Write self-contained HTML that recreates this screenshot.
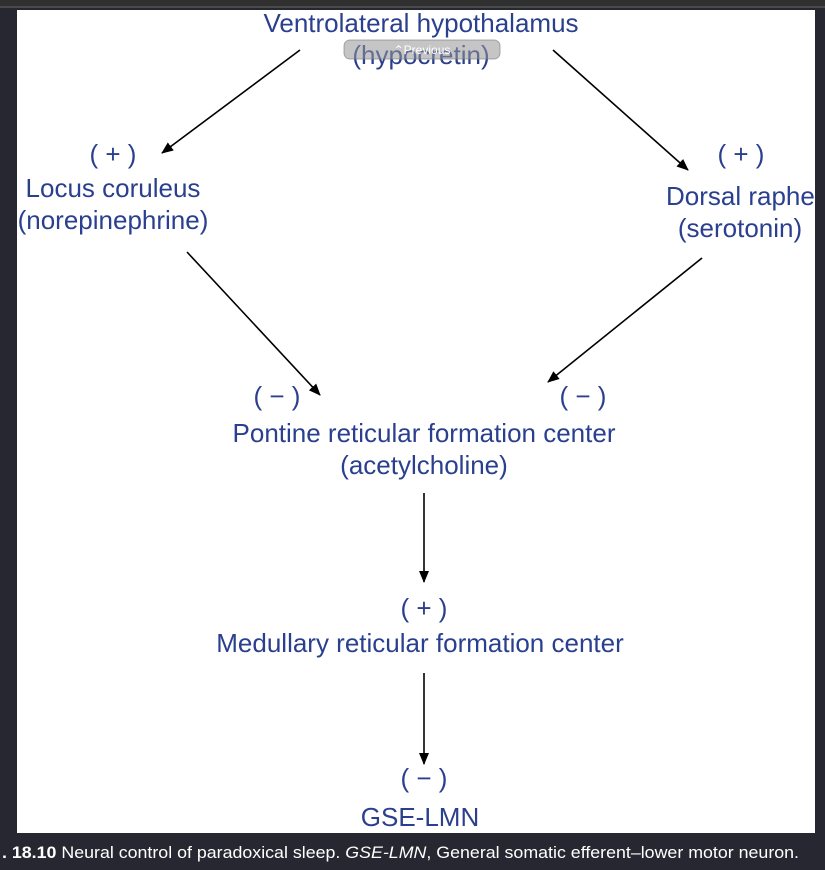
<!DOCTYPE html>
<html><head><meta charset="utf-8"><style>
html,body{margin:0;padding:0;background:#262730;width:825px;height:870px;overflow:hidden}
svg{display:block}
.t{font-family:"Liberation Sans",sans-serif;font-size:26px;fill:#2a3f8e}
</style></head><body>
<svg width="825" height="870" viewBox="0 0 825 870">
<defs><marker id="a" markerWidth="12" markerHeight="10" refX="11" refY="5" orient="auto" markerUnits="userSpaceOnUse"><path d="M0,0 L12,5 L0,10 Z" fill="#000"/></marker></defs>
<rect x="0" y="0" width="825" height="6" fill="#303030"/>
<rect x="0" y="6" width="825" height="2" fill="#4a4a4a"/>
<rect x="17" y="10" width="798" height="823" fill="#fff"/>
<g class="t" text-anchor="middle">
<text x="421" y="32">Ventrolateral hypothalamus</text>
<text x="421" y="64">(hypocretin)</text>
<text x="113" y="163">( + )</text>
<text x="113" y="197">Locus coruleus</text>
<text x="113" y="229">(norepinephrine)</text>
<text x="741" y="163">( + )</text>
<text x="666" y="205" text-anchor="start">Dorsal raphe</text>
<text x="740" y="237">(serotonin)</text>
<text x="277" y="405">( − )</text>
<text x="583" y="405">( − )</text>
<text x="424" y="442">Pontine reticular formation center</text>
<text x="424" y="474">(acetylcholine)</text>
<text x="424" y="617">( + )</text>
<text x="420" y="652">Medullary reticular formation center</text>
<text x="424" y="787">( − )</text>
<text x="420" y="826">GSE-LMN</text>
</g>
<rect x="815" y="10" width="10" height="823" fill="#262730"/>
<g stroke="#000" stroke-width="1.6" marker-end="url(#a)">
<line x1="300" y1="50" x2="162" y2="153"/>
<line x1="553" y1="50" x2="688" y2="170"/>
<line x1="187" y1="252" x2="320" y2="395"/>
<line x1="702" y1="258" x2="548" y2="382"/>
<line x1="424" y1="493" x2="424" y2="582"/>
<line x1="424" y1="673" x2="424" y2="764"/>
</g>
<rect x="344" y="40" width="156" height="19" rx="6" fill="rgba(150,150,150,0.55)" stroke="rgba(120,120,120,0.6)"/>
<text x="422" y="54" text-anchor="middle" font-family="Liberation Sans,sans-serif" font-size="12" fill="#fff">⌃Previous</text>
<text x="2" y="858" font-family="Liberation Sans,sans-serif" font-size="17" fill="#fff" textLength="797" lengthAdjust="spacingAndGlyphs"><tspan font-weight="bold">. 18.10</tspan>   Neural control of paradoxical sleep. <tspan font-style="italic">GSE-LMN</tspan>, General somatic efferent–lower motor neuron.</text>
</svg>
</body></html>
